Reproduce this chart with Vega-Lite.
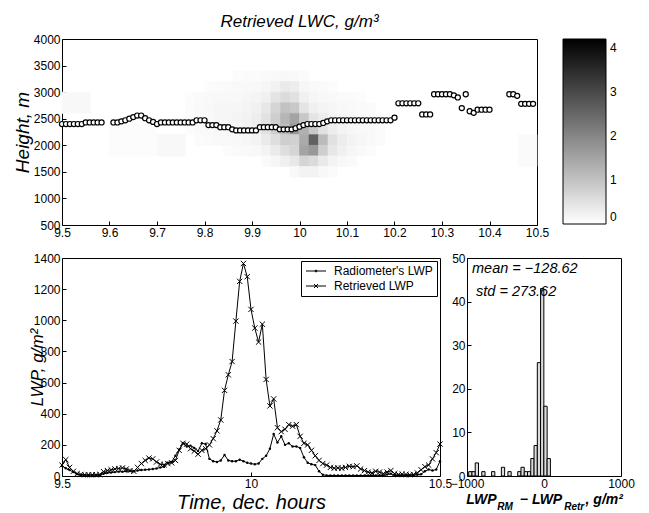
{
  "$schema": "https://vega.github.io/schema/vega-lite/v6.json",
  "background": "white",
  "padding": {"left": 12, "top": 12, "right": 5, "bottom": 2},
  "config": {
    "font": "Liberation Sans",
    "view": {"stroke": "black", "strokeWidth": 1},
    "axis": {"grid": false, "domain": false, "tickColor": "black", "tickSize": -4, "labelPadding": 6, "labelFontSize": 12, "labelColor": "black", "titleColor": "black", "titleFontWeight": "normal", "titleFontStyle": "italic", "labelFont": "Liberation Sans", "titleFont": "Liberation Sans", "labelFlush": false, "labelOverlap": false},
    "legend": {"labelFont": "Liberation Sans", "labelColor": "black"},
    "text": {"font": "Liberation Sans", "color": "black"},
    "title": {"font": "Liberation Sans", "color": "black"}
  },
  "bounds": "flush",
  "spacing": 33,
  "resolve": {"legend": {"color": "independent", "shape": "independent"}, "scale": {"color": "independent", "shape": "independent"}},
  "datasets": {
    "lwc": [
      {"t":9.86,"t1":9.88,"h":3200,"h1":3400,"v":0.05},{"t":9.88,"t1":9.90,"h":3200,"h1":3400,"v":0.06},{"t":9.90,"t1":9.92,"h":3200,"h1":3400,"v":0.06},{"t":9.92,"t1":9.94,"h":3200,"h1":3400,"v":0.08},{"t":9.94,"t1":9.96,"h":3200,"h1":3400,"v":0.1},{"t":9.96,"t1":9.98,"h":3200,"h1":3400,"v":0.12},{"t":9.98,"t1":10.00,"h":3200,"h1":3400,"v":0.1},{"t":10.00,"t1":10.02,"h":3200,"h1":3400,"v":0.06},
      {"t":9.80,"t1":9.82,"h":3000,"h1":3200,"v":0.05},{"t":9.82,"t1":9.84,"h":3000,"h1":3200,"v":0.06},{"t":9.84,"t1":9.86,"h":3000,"h1":3200,"v":0.08},{"t":9.86,"t1":9.88,"h":3000,"h1":3200,"v":0.1},{"t":9.88,"t1":9.90,"h":3000,"h1":3200,"v":0.1},{"t":9.90,"t1":9.92,"h":3000,"h1":3200,"v":0.12},{"t":9.92,"t1":9.94,"h":3000,"h1":3200,"v":0.15},{"t":9.94,"t1":9.96,"h":3000,"h1":3200,"v":0.22},{"t":9.96,"t1":9.98,"h":3000,"h1":3200,"v":0.35},{"t":9.98,"t1":10.00,"h":3000,"h1":3200,"v":0.3},{"t":10.00,"t1":10.02,"h":3000,"h1":3200,"v":0.15},{"t":10.02,"t1":10.04,"h":3000,"h1":3200,"v":0.1},{"t":10.04,"t1":10.06,"h":3000,"h1":3200,"v":0.08},{"t":10.06,"t1":10.08,"h":3000,"h1":3200,"v":0.05},
      {"t":9.76,"t1":9.78,"h":2800,"h1":3000,"v":0.05},{"t":9.78,"t1":9.80,"h":2800,"h1":3000,"v":0.08},{"t":9.80,"t1":9.82,"h":2800,"h1":3000,"v":0.1},{"t":9.82,"t1":9.84,"h":2800,"h1":3000,"v":0.12},{"t":9.84,"t1":9.86,"h":2800,"h1":3000,"v":0.12},{"t":9.86,"t1":9.88,"h":2800,"h1":3000,"v":0.12},{"t":9.88,"t1":9.90,"h":2800,"h1":3000,"v":0.15},{"t":9.90,"t1":9.92,"h":2800,"h1":3000,"v":0.18},{"t":9.92,"t1":9.94,"h":2800,"h1":3000,"v":0.25},{"t":9.94,"t1":9.96,"h":2800,"h1":3000,"v":0.45},{"t":9.96,"t1":9.98,"h":2800,"h1":3000,"v":0.6},{"t":9.98,"t1":10.00,"h":2800,"h1":3000,"v":0.5},{"t":10.00,"t1":10.02,"h":2800,"h1":3000,"v":0.25},{"t":10.02,"t1":10.04,"h":2800,"h1":3000,"v":0.15},{"t":10.04,"t1":10.06,"h":2800,"h1":3000,"v":0.12},{"t":10.06,"t1":10.08,"h":2800,"h1":3000,"v":0.1},{"t":10.08,"t1":10.10,"h":2800,"h1":3000,"v":0.08},{"t":10.10,"t1":10.12,"h":2800,"h1":3000,"v":0.06},{"t":10.12,"t1":10.14,"h":2800,"h1":3000,"v":0.05},
      {"t":9.76,"t1":9.78,"h":2600,"h1":2800,"v":0.06},{"t":9.78,"t1":9.80,"h":2600,"h1":2800,"v":0.1},{"t":9.80,"t1":9.82,"h":2600,"h1":2800,"v":0.12},{"t":9.82,"t1":9.84,"h":2600,"h1":2800,"v":0.15},{"t":9.84,"t1":9.86,"h":2600,"h1":2800,"v":0.15},{"t":9.86,"t1":9.88,"h":2600,"h1":2800,"v":0.15},{"t":9.88,"t1":9.90,"h":2600,"h1":2800,"v":0.18},{"t":9.90,"t1":9.92,"h":2600,"h1":2800,"v":0.25},{"t":9.92,"t1":9.94,"h":2600,"h1":2800,"v":0.4},{"t":9.94,"t1":9.96,"h":2600,"h1":2800,"v":0.7},{"t":9.96,"t1":9.98,"h":2600,"h1":2800,"v":1.0},{"t":9.98,"t1":10.00,"h":2600,"h1":2800,"v":0.9},{"t":10.00,"t1":10.02,"h":2600,"h1":2800,"v":0.45},{"t":10.02,"t1":10.04,"h":2600,"h1":2800,"v":0.25},{"t":10.04,"t1":10.06,"h":2600,"h1":2800,"v":0.18},{"t":10.06,"t1":10.08,"h":2600,"h1":2800,"v":0.15},{"t":10.08,"t1":10.10,"h":2600,"h1":2800,"v":0.12},{"t":10.10,"t1":10.12,"h":2600,"h1":2800,"v":0.1},{"t":10.12,"t1":10.14,"h":2600,"h1":2800,"v":0.08},{"t":10.14,"t1":10.16,"h":2600,"h1":2800,"v":0.06},
      {"t":9.76,"t1":9.78,"h":2400,"h1":2600,"v":0.06},{"t":9.78,"t1":9.80,"h":2400,"h1":2600,"v":0.1},{"t":9.80,"t1":9.82,"h":2400,"h1":2600,"v":0.12},{"t":9.82,"t1":9.84,"h":2400,"h1":2600,"v":0.15},{"t":9.84,"t1":9.86,"h":2400,"h1":2600,"v":0.15},{"t":9.86,"t1":9.88,"h":2400,"h1":2600,"v":0.18},{"t":9.88,"t1":9.90,"h":2400,"h1":2600,"v":0.22},{"t":9.90,"t1":9.92,"h":2400,"h1":2600,"v":0.3},{"t":9.92,"t1":9.94,"h":2400,"h1":2600,"v":0.5},{"t":9.94,"t1":9.96,"h":2400,"h1":2600,"v":0.8},{"t":9.96,"t1":9.98,"h":2400,"h1":2600,"v":1.2},{"t":9.98,"t1":10.00,"h":2400,"h1":2600,"v":1.5},{"t":10.00,"t1":10.02,"h":2400,"h1":2600,"v":0.9},{"t":10.02,"t1":10.04,"h":2400,"h1":2600,"v":0.45},{"t":10.04,"t1":10.06,"h":2400,"h1":2600,"v":0.3},{"t":10.06,"t1":10.08,"h":2400,"h1":2600,"v":0.2},{"t":10.08,"t1":10.10,"h":2400,"h1":2600,"v":0.15},{"t":10.10,"t1":10.12,"h":2400,"h1":2600,"v":0.12},{"t":10.12,"t1":10.14,"h":2400,"h1":2600,"v":0.1},{"t":10.14,"t1":10.16,"h":2400,"h1":2600,"v":0.08},{"t":10.16,"t1":10.18,"h":2400,"h1":2600,"v":0.05},
      {"t":9.76,"t1":9.78,"h":2200,"h1":2400,"v":0.05},{"t":9.78,"t1":9.80,"h":2200,"h1":2400,"v":0.08},{"t":9.80,"t1":9.82,"h":2200,"h1":2400,"v":0.1},{"t":9.82,"t1":9.84,"h":2200,"h1":2400,"v":0.12},{"t":9.84,"t1":9.86,"h":2200,"h1":2400,"v":0.12},{"t":9.86,"t1":9.88,"h":2200,"h1":2400,"v":0.15},{"t":9.88,"t1":9.90,"h":2200,"h1":2400,"v":0.2},{"t":9.90,"t1":9.92,"h":2200,"h1":2400,"v":0.28},{"t":9.92,"t1":9.94,"h":2200,"h1":2400,"v":0.5},{"t":9.94,"t1":9.96,"h":2200,"h1":2400,"v":0.8},{"t":9.96,"t1":9.98,"h":2200,"h1":2400,"v":1.1},{"t":9.98,"t1":10.00,"h":2200,"h1":2400,"v":1.7},{"t":10.00,"t1":10.02,"h":2200,"h1":2400,"v":1.3},{"t":10.02,"t1":10.04,"h":2200,"h1":2400,"v":0.9},{"t":10.04,"t1":10.06,"h":2200,"h1":2400,"v":0.5},{"t":10.06,"t1":10.08,"h":2200,"h1":2400,"v":0.3},{"t":10.08,"t1":10.10,"h":2200,"h1":2400,"v":0.2},{"t":10.10,"t1":10.12,"h":2200,"h1":2400,"v":0.15},{"t":10.12,"t1":10.14,"h":2200,"h1":2400,"v":0.12},{"t":10.14,"t1":10.16,"h":2200,"h1":2400,"v":0.1},{"t":10.16,"t1":10.18,"h":2200,"h1":2400,"v":0.06},
      {"t":9.78,"t1":9.80,"h":2000,"h1":2200,"v":0.06},{"t":9.80,"t1":9.82,"h":2000,"h1":2200,"v":0.08},{"t":9.82,"t1":9.84,"h":2000,"h1":2200,"v":0.1},{"t":9.84,"t1":9.86,"h":2000,"h1":2200,"v":0.1},{"t":9.86,"t1":9.88,"h":2000,"h1":2200,"v":0.12},{"t":9.88,"t1":9.90,"h":2000,"h1":2200,"v":0.15},{"t":9.90,"t1":9.92,"h":2000,"h1":2200,"v":0.2},{"t":9.92,"t1":9.94,"h":2000,"h1":2200,"v":0.35},{"t":9.94,"t1":9.96,"h":2000,"h1":2200,"v":0.55},{"t":9.96,"t1":9.98,"h":2000,"h1":2200,"v":0.8},{"t":9.98,"t1":10.00,"h":2000,"h1":2200,"v":0.75},{"t":10.00,"t1":10.02,"h":2000,"h1":2200,"v":1.4},{"t":10.02,"t1":10.04,"h":2000,"h1":2200,"v":2.6},{"t":10.04,"t1":10.06,"h":2000,"h1":2200,"v":1.1},{"t":10.06,"t1":10.08,"h":2000,"h1":2200,"v":0.5},{"t":10.08,"t1":10.10,"h":2000,"h1":2200,"v":0.3},{"t":10.10,"t1":10.12,"h":2000,"h1":2200,"v":0.2},{"t":10.12,"t1":10.14,"h":2000,"h1":2200,"v":0.15},{"t":10.14,"t1":10.16,"h":2000,"h1":2200,"v":0.1},{"t":10.16,"t1":10.18,"h":2000,"h1":2200,"v":0.06},
      {"t":9.84,"t1":9.86,"h":1800,"h1":2000,"v":0.06},{"t":9.86,"t1":9.88,"h":1800,"h1":2000,"v":0.08},{"t":9.88,"t1":9.90,"h":1800,"h1":2000,"v":0.1},{"t":9.90,"t1":9.92,"h":1800,"h1":2000,"v":0.12},{"t":9.92,"t1":9.94,"h":1800,"h1":2000,"v":0.2},{"t":9.94,"t1":9.96,"h":1800,"h1":2000,"v":0.35},{"t":9.96,"t1":9.98,"h":1800,"h1":2000,"v":0.55},{"t":9.98,"t1":10.00,"h":1800,"h1":2000,"v":0.7},{"t":10.00,"t1":10.02,"h":1800,"h1":2000,"v":1.5},{"t":10.02,"t1":10.04,"h":1800,"h1":2000,"v":1.7},{"t":10.04,"t1":10.06,"h":1800,"h1":2000,"v":0.8},{"t":10.06,"t1":10.08,"h":1800,"h1":2000,"v":0.4},{"t":10.08,"t1":10.10,"h":1800,"h1":2000,"v":0.25},{"t":10.10,"t1":10.12,"h":1800,"h1":2000,"v":0.15},{"t":10.12,"t1":10.14,"h":1800,"h1":2000,"v":0.1},{"t":10.14,"t1":10.16,"h":1800,"h1":2000,"v":0.06},
      {"t":9.92,"t1":9.94,"h":1600,"h1":1800,"v":0.08},{"t":9.94,"t1":9.96,"h":1600,"h1":1800,"v":0.15},{"t":9.96,"t1":9.98,"h":1600,"h1":1800,"v":0.25},{"t":9.98,"t1":10.00,"h":1600,"h1":1800,"v":0.4},{"t":10.00,"t1":10.02,"h":1600,"h1":1800,"v":0.7},{"t":10.02,"t1":10.04,"h":1600,"h1":1800,"v":0.6},{"t":10.04,"t1":10.06,"h":1600,"h1":1800,"v":0.35},{"t":10.06,"t1":10.08,"h":1600,"h1":1800,"v":0.2},{"t":10.08,"t1":10.10,"h":1600,"h1":1800,"v":0.12},{"t":10.10,"t1":10.12,"h":1600,"h1":1800,"v":0.08},
      {"t":9.98,"t1":10.00,"h":1400,"h1":1600,"v":0.1},{"t":10.00,"t1":10.02,"h":1400,"h1":1600,"v":0.2},{"t":10.02,"t1":10.04,"h":1400,"h1":1600,"v":0.2},{"t":10.04,"t1":10.06,"h":1400,"h1":1600,"v":0.12},{"t":10.06,"t1":10.08,"h":1400,"h1":1600,"v":0.06},
      {"t":9.5,"t1":9.56,"h":2600,"h1":3000,"v":0.12},
      {"t":9.70,"t1":9.76,"h":1800,"h1":2200,"v":0.12},
      {"t":9.60,"t1":9.70,"h":1800,"h1":2400,"v":0.05},
      {"t":10.46,"t1":10.5,"h":1600,"h1":2200,"v":0.08}
    ],
    "base": [
      {"t":9.5,"h":2400},{"t":9.5083,"h":2400},{"t":9.5167,"h":2400},{"t":9.525,"h":2400},{"t":9.5333,"h":2400},{"t":9.5417,"h":2400},
      {"t":9.55,"h":2430},{"t":9.5583,"h":2430},{"t":9.5667,"h":2430},{"t":9.575,"h":2430},{"t":9.5833,"h":2430},
      {"t":9.6083,"h":2430},{"t":9.6167,"h":2430},{"t":9.625,"h":2450},{"t":9.6333,"h":2470},{"t":9.6417,"h":2500},{"t":9.65,"h":2530},{"t":9.6583,"h":2560},{"t":9.6667,"h":2560},{"t":9.675,"h":2510},{"t":9.6833,"h":2470},{"t":9.6917,"h":2440},{"t":9.7,"h":2400},
      {"t":9.7083,"h":2430},{"t":9.7167,"h":2430},{"t":9.725,"h":2430},{"t":9.7333,"h":2430},{"t":9.7417,"h":2430},{"t":9.75,"h":2430},{"t":9.7583,"h":2430},{"t":9.7667,"h":2430},{"t":9.775,"h":2430},
      {"t":9.7833,"h":2470},{"t":9.7917,"h":2470},{"t":9.8,"h":2470},
      {"t":9.8083,"h":2380},{"t":9.8167,"h":2380},{"t":9.825,"h":2380},
      {"t":9.8333,"h":2340},{"t":9.8417,"h":2340},{"t":9.85,"h":2340},{"t":9.8583,"h":2300},
      {"t":9.8667,"h":2280},{"t":9.875,"h":2280},{"t":9.8833,"h":2280},{"t":9.8917,"h":2280},{"t":9.9,"h":2280},{"t":9.9083,"h":2280},
      {"t":9.9167,"h":2340},{"t":9.925,"h":2340},{"t":9.9333,"h":2340},{"t":9.9417,"h":2340},{"t":9.95,"h":2340},
      {"t":9.9583,"h":2300},{"t":9.9667,"h":2300},{"t":9.975,"h":2300},{"t":9.9833,"h":2300},
      {"t":9.9917,"h":2320},{"t":10.0,"h":2350},{"t":10.0083,"h":2380},
      {"t":10.0167,"h":2400},{"t":10.025,"h":2400},{"t":10.0333,"h":2400},{"t":10.0417,"h":2400},{"t":10.05,"h":2420},{"t":10.0583,"h":2450},
      {"t":10.0667,"h":2470},{"t":10.075,"h":2470},{"t":10.0833,"h":2470},{"t":10.0917,"h":2470},{"t":10.1,"h":2470},{"t":10.1083,"h":2470},{"t":10.1167,"h":2470},{"t":10.125,"h":2470},{"t":10.1333,"h":2470},{"t":10.1417,"h":2470},{"t":10.15,"h":2470},{"t":10.1583,"h":2470},{"t":10.1667,"h":2470},{"t":10.175,"h":2470},{"t":10.1833,"h":2470},{"t":10.1917,"h":2470},
      {"t":10.2,"h":2520},
      {"t":10.2083,"h":2790},{"t":10.2167,"h":2790},{"t":10.225,"h":2790},{"t":10.2333,"h":2790},{"t":10.2417,"h":2790},{"t":10.25,"h":2790},
      {"t":10.2583,"h":2580},{"t":10.2667,"h":2580},{"t":10.275,"h":2580},
      {"t":10.2833,"h":2960},{"t":10.2917,"h":2960},{"t":10.3,"h":2960},{"t":10.3083,"h":2960},{"t":10.3167,"h":2960},{"t":10.325,"h":2940},{"t":10.3333,"h":2900},
      {"t":10.3417,"h":2700},{"t":10.35,"h":2960},{"t":10.3583,"h":2640},{"t":10.3667,"h":2610},
      {"t":10.375,"h":2670},{"t":10.3833,"h":2670},{"t":10.3917,"h":2670},{"t":10.4,"h":2670},
      {"t":10.4417,"h":2960},{"t":10.45,"h":2960},{"t":10.4583,"h":2930},
      {"t":10.4667,"h":2780},{"t":10.475,"h":2780},{"t":10.4833,"h":2780},{"t":10.4917,"h":2780}
    ],
    "lwp": [
      {"t":9.50,"rad":65,"ret":70},{"t":9.51,"rad":50,"ret":105},{"t":9.52,"rad":38,"ret":55},{"t":9.53,"rad":25,"ret":30},{"t":9.54,"rad":12,"ret":15},
      {"t":9.55,"rad":6,"ret":10},{"t":9.56,"rad":5,"ret":8},{"t":9.57,"rad":5,"ret":8},{"t":9.58,"rad":5,"ret":8},{"t":9.59,"rad":5,"ret":8},
      {"t":9.60,"rad":5,"ret":10},{"t":9.61,"rad":15,"ret":28},{"t":9.62,"rad":20,"ret":35},{"t":9.63,"rad":22,"ret":40},{"t":9.64,"rad":25,"ret":45},
      {"t":9.65,"rad":28,"ret":48},{"t":9.66,"rad":27,"ret":52},{"t":9.67,"rad":30,"ret":45},{"t":9.68,"rad":32,"ret":35},{"t":9.69,"rad":30,"ret":30},
      {"t":9.70,"rad":35,"ret":55},{"t":9.71,"rad":38,"ret":80},{"t":9.72,"rad":40,"ret":100},{"t":9.73,"rad":42,"ret":115},{"t":9.74,"rad":45,"ret":110},
      {"t":9.75,"rad":48,"ret":90},{"t":9.76,"rad":55,"ret":75},{"t":9.77,"rad":60,"ret":72},{"t":9.78,"rad":85,"ret":80},{"t":9.79,"rad":90,"ret":85},
      {"t":9.80,"rad":130,"ret":100},{"t":9.81,"rad":170,"ret":165},{"t":9.82,"rad":210,"ret":210},{"t":9.83,"rad":190,"ret":205},{"t":9.84,"rad":195,"ret":175},
      {"t":9.85,"rad":180,"ret":160},{"t":9.86,"rad":160,"ret":140},{"t":9.87,"rad":210,"ret":165},{"t":9.88,"rad":205,"ret":175},{"t":9.89,"rad":110,"ret":200},
      {"t":9.90,"rad":95,"ret":240},{"t":9.91,"rad":90,"ret":290},{"t":9.92,"rad":100,"ret":360},{"t":9.93,"rad":135,"ret":550},{"t":9.94,"rad":100,"ret":650},
      {"t":9.95,"rad":95,"ret":735},{"t":9.96,"rad":95,"ret":995},{"t":9.97,"rad":105,"ret":1250},{"t":9.98,"rad":95,"ret":1365},{"t":9.99,"rad":85,"ret":1280},
      {"t":10.00,"rad":80,"ret":1070},{"t":10.01,"rad":75,"ret":950},{"t":10.02,"rad":80,"ret":860},{"t":10.03,"rad":110,"ret":975},{"t":10.04,"rad":130,"ret":620},
      {"t":10.05,"rad":175,"ret":450},{"t":10.06,"rad":270,"ret":495},{"t":10.07,"rad":215,"ret":310},{"t":10.08,"rad":255,"ret":285},{"t":10.09,"rad":200,"ret":300},
      {"t":10.10,"rad":210,"ret":330},{"t":10.11,"rad":190,"ret":320},{"t":10.12,"rad":190,"ret":330},{"t":10.13,"rad":180,"ret":255},{"t":10.14,"rad":120,"ret":210},
      {"t":10.15,"rad":85,"ret":200},{"t":10.16,"rad":75,"ret":165},{"t":10.17,"rad":70,"ret":130},{"t":10.18,"rad":30,"ret":100},{"t":10.19,"rad":8,"ret":80},
      {"t":10.20,"rad":4,"ret":70},{"t":10.21,"rad":3,"ret":55},{"t":10.22,"rad":3,"ret":50},{"t":10.23,"rad":3,"ret":52},{"t":10.24,"rad":3,"ret":50},
      {"t":10.25,"rad":3,"ret":55},{"t":10.26,"rad":3,"ret":62},{"t":10.27,"rad":3,"ret":60},{"t":10.28,"rad":3,"ret":65},{"t":10.29,"rad":3,"ret":45},
      {"t":10.30,"rad":3,"ret":35},{"t":10.31,"rad":3,"ret":25},{"t":10.32,"rad":3,"ret":20},{"t":10.33,"rad":3,"ret":30},{"t":10.34,"rad":5,"ret":25},
      {"t":10.35,"rad":3,"ret":15},{"t":10.36,"rad":10,"ret":25},{"t":10.37,"rad":15,"ret":35},{"t":10.38,"rad":5,"ret":15},{"t":10.39,"rad":3,"ret":10},
      {"t":10.40,"rad":3,"ret":12},{"t":10.41,"rad":3,"ret":10},{"t":10.42,"rad":3,"ret":8},{"t":10.43,"rad":5,"ret":10},{"t":10.44,"rad":8,"ret":20},
      {"t":10.45,"rad":12,"ret":40},{"t":10.46,"rad":30,"ret":60},{"t":10.47,"rad":42,"ret":70},{"t":10.48,"rad":35,"ret":110},{"t":10.49,"rad":42,"ret":150},
      {"t":10.50,"rad":95,"ret":205}
    ],
    "hist": [
      {"lo":-978,"hi":-935.6,"n":1},{"lo":-935.6,"hi":-893.1,"n":1},{"lo":-893.1,"hi":-850.7,"n":3},{"lo":-808.2,"hi":-765.8,"n":1},
      {"lo":-680.9,"hi":-638.5,"n":1},{"lo":-553.6,"hi":-511.2,"n":2},{"lo":-468.7,"hi":-426.3,"n":1},{"lo":-341.4,"hi":-299.0,"n":1},
      {"lo":-299.0,"hi":-256.5,"n":2},{"lo":-256.5,"hi":-214.1,"n":1},{"lo":-214.1,"hi":-171.6,"n":1},{"lo":-171.6,"hi":-129.2,"n":4},
      {"lo":-129.2,"hi":-86.8,"n":7},{"lo":-86.8,"hi":-44.3,"n":26},{"lo":-44.3,"hi":-1.9,"n":43},{"lo":-1.9,"hi":40.6,"n":16},{"lo":40.6,"hi":83.0,"n":4}
    ]
  },
  "vconcat": [
    {
      "width": 475,
      "height": 186,
      "title": {"text": "Retrieved LWC, g/m³", "fontSize": 17, "fontStyle": "italic", "fontWeight": "normal", "anchor": "middle", "baseline": "bottom", "offset": -15, "frame": "group"},
      "layer": [
        {
          "data": {"name": "lwc"},
          "mark": {"type": "rect", "strokeWidth": 0.6},
          "encoding": {
            "x": {"field": "t", "type": "quantitative", "scale": {"domain": [9.5, 10.5], "nice": false}, "axis": {"values": [9.5, 9.6, 9.7, 9.8, 9.9, 10, 10.1, 10.2, 10.3, 10.4, 10.5], "tickCount": 30, "format": "~g", "title": null, "labelOverlap": false}},
            "x2": {"field": "t1"},
            "y": {"field": "h", "type": "quantitative", "scale": {"domain": [500, 4000], "nice": false}, "axis": {"values": [500, 1000, 1500, 2000, 2500, 3000, 3500, 4000], "tickCount": 30, "format": "d", "title": "Height, m", "titleFontSize": 19, "titleX": -40, "titleY": 93, "titleBaseline": "middle", "titleAngle": -90, "labelOverlap": false}},
            "y2": {"field": "h1"},
            "color": {"field": "v", "type": "quantitative", "scale": {"domain": [0, 4.2], "range": ["#ffffff", "#000000"], "interpolate": "rgb"},
              "legend": {"title": null, "orient": "right", "offset": 26, "direction": "vertical", "type": "gradient", "gradientLength": 185, "gradientThickness": 43, "gradientStrokeColor": "black", "gradientStrokeWidth": 1, "values": [0, 1, 2, 3, 4], "labelFontSize": 12, "labelOffset": 4, "labelBaseline": "middle", "labelOverlap": false, "padding": 0}},
            "stroke": {"field": "v", "type": "quantitative", "scale": {"domain": [0, 4.2], "range": ["#ffffff", "#000000"], "interpolate": "rgb"}, "legend": null}
          }
        },
        {
          "data": {"name": "base"},
          "mark": {"type": "point", "shape": "circle", "filled": true, "fill": "white", "stroke": "black", "strokeWidth": 1.2, "size": 26, "opacity": 1},
          "encoding": {
            "x": {"field": "t", "type": "quantitative"},
            "y": {"field": "h", "type": "quantitative"}
          }
        }
      ]
    },
    {
      "hconcat": [
        {
          "width": 378,
          "height": 218,
          "data": {"name": "lwp"},
          "transform": [{"fold": ["rad", "ret"], "as": ["series", "lwp"]}],
          "encoding": {
            "x": {"field": "t", "type": "quantitative", "scale": {"domain": [9.5, 10.5], "nice": false}, "axis": {"values": [9.5, 10, 10.5], "tickCount": 30, "format": "~g", "title": "Time, dec. hours", "titleFontSize": 20, "titlePadding": 3, "labelOverlap": false}},
            "y": {"field": "lwp", "type": "quantitative", "scale": {"domain": [0, 1400], "nice": false}, "axis": {"values": [0, 200, 400, 600, 800, 1000, 1200, 1400], "tickCount": 30, "format": "d", "title": "LWP, g/m²", "titleFontSize": 17, "titleX": -25, "titleY": 109, "titleBaseline": "middle", "titleAngle": -90, "labelOverlap": false}}
          },
          "layer": [
            {"mark": {"type": "line", "color": "black", "strokeWidth": 1}, "encoding": {"detail": {"field": "series"}}},
            {"transform": [{"filter": "datum.series == 'ret'"}], "mark": {"type": "point", "shape": "M-1,-1L1,1M-1,1L1,-1", "filled": false, "stroke": "black", "strokeWidth": 1, "size": 28, "opacity": 1}},
            {"transform": [{"filter": "datum.series == 'rad'"}], "mark": {"type": "point", "shape": "circle", "filled": true, "fill": "black", "size": 6, "opacity": 1}},
            {
              "mark": {"type": "point", "filled": false, "stroke": "black", "opacity": 0},
              "encoding": {
                "shape": {"field": "series", "type": "nominal",
                  "scale": {"domain": ["rad", "ret"], "range": ["M-1,0H3M0.85,-0.15H1.15V0.15H0.85Z", "M-1,0H3M0.6,-0.4L1.4,0.4M0.6,0.4L1.4,-0.4"]},
                  "legend": {"title": null, "orient": "top-right", "offset": 3, "fillColor": "white", "strokeColor": "black", "padding": 4, "symbolSize": 100, "symbolStrokeColor": "black", "symbolStrokeWidth": 1, "symbolFillColor": "transparent", "symbolOpacity": 1, "labelFontSize": 12, "labelOffset": 17, "rowPadding": 3,
                    "labelExpr": "datum.label == 'rad' ? \"Radiometer's LWP\" : 'Retrieved LWP'",
                    "encode": {"symbols": {"update": {"opacity": {"value": 1}, "strokeOpacity": {"value": 1}}}}}
                }
              }
            }
          ]
        },
        {
          "width": 154,
          "height": 218,
          "layer": [
            {
              "data": {"name": "hist"},
              "mark": {"type": "rect", "fill": "#dcdcdc", "stroke": "black", "strokeWidth": 1},
              "encoding": {
                "x": {"field": "lo", "type": "quantitative", "scale": {"domain": [-1000, 1000], "nice": false}, "axis": {"values": [-1000, 0, 1000], "tickCount": 30, "format": "d", "title": "LWP\u00a0\u00a0\u00a0\u00a0\u00a0 − LWP\u00a0\u00a0\u00a0\u00a0\u00a0\u00a0, g/m²", "titleFontSize": 14, "titleFontWeight": "bold", "titleFontStyle": "italic", "titlePadding": 3, "labelOverlap": false}},
                "x2": {"field": "hi"},
                "y": {"field": "n", "type": "quantitative", "scale": {"domain": [0, 50], "nice": false}, "axis": {"values": [0, 10, 20, 30, 40, 50], "tickCount": 30, "title": null, "labelOverlap": false}},
                "y2": {"datum": 0}
              }
            },
            {
              "data": {"values": [{"label": "mean = −128.62"}]},
              "mark": {"type": "text", "align": "left", "baseline": "alphabetic", "fontSize": 14.5, "fontStyle": "italic"},
              "encoding": {"x": {"datum": -935}, "y": {"datum": 46.6}, "text": {"field": "label"}}
            },
            {
              "data": {"values": [{"label": "std = 273.62"}]},
              "mark": {"type": "text", "align": "left", "baseline": "alphabetic", "fontSize": 14.5, "fontStyle": "italic"},
              "encoding": {"x": {"datum": -883}, "y": {"datum": 41.3}, "text": {"field": "label"}}
            },
            {
              "data": {"values": [{"label": "RM"}]},
              "mark": {"type": "text", "align": "left", "baseline": "alphabetic", "fontSize": 10, "fontStyle": "italic", "fontWeight": "bold"},
              "encoding": {"x": {"datum": -608}, "y": {"datum": -7.9}, "text": {"field": "label"}}
            },
            {
              "data": {"values": [{"label": "Retr"}]},
              "mark": {"type": "text", "align": "left", "baseline": "alphabetic", "fontSize": 10, "fontStyle": "italic", "fontWeight": "bold"},
              "encoding": {"x": {"datum": 262}, "y": {"datum": -7.9}, "text": {"field": "label"}}
            }
          ]
        }
      ],
      "spacing": 27,
      "bounds": "flush",
      "resolve": {"legend": {"shape": "independent"}, "scale": {"shape": "independent"}}
    }
  ]
}
